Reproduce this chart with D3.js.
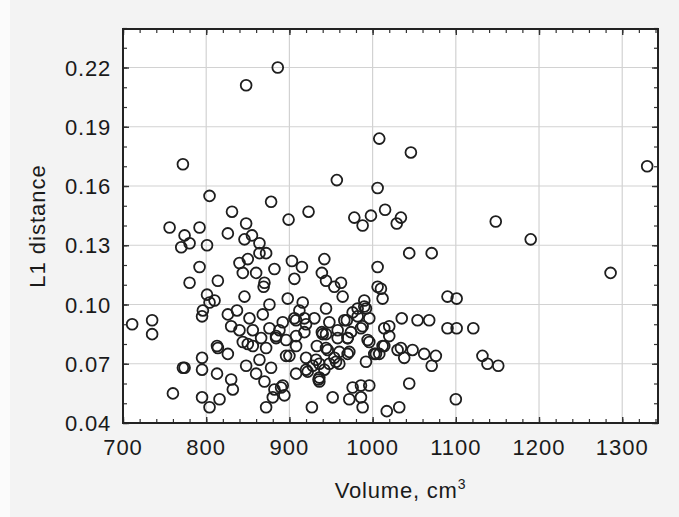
<!DOCTYPE html>
<html>
<head>
<meta charset="utf-8">
<script src="https://cdn.jsdelivr.net/npm/d3@7"></script>
<style>
  body{margin:0;background:#f3f3f3;}
  svg{display:block;font-family:"Liberation Sans",Arial,sans-serif;}
</style>
</head>
<body>
<script>
const w=679;
const h=517;
const margin={top:29,right:21,bottom:94,left:123};

// volume (cm3) and L1 distance
const volume=[
  886,848,772,1008,1046,1330,957,1006,804,878,831,923,899,848,756,792,826,
  978,988,998,1015,1029,1034,1148,1190,1286,
  774,770,780,801,846,855,864,872,864,850,840,844,860,870,882,903,915,906,
  942,939,944,792,780,814,801,804,846,898,916,876,837,796,944,1044,1071,
  1006,962,964,1006,1012,1090,1101,990,992,976,
  711,735,735,760,772,
  795,852,830,840,844,866,876,892,908,920,939,856,872,896,908,900,884,814,
  826,795,774,795,813,830,832,848,864,878,860,870,882,892,894,872,795,804,
  816,927,908,920,928,936,936,948,966,982,996,988,974,958,944,944,954,942,
  972,960,996,1004,992,1014,1020,1020,1035,1054,1068,1090,1101,1121,1034,
  1038,1048,1062,1076,1071,1132,1138,1151,936,952,972,976,986,996,986,988,
  1044,1032,1017,1100,1008,1030,880,890,922,935,960,970,1002,948,970,994,
  1012,1014,969,990,982,826,856,868,884,912,
  869,810,906,918,850,908,918,888,813,896,920,954,1010,930,986,940,958,970,
  946,933,956,932
];
const l1=[
  0.220,0.211,0.171,0.184,0.177,0.170,0.163,0.159,0.155,0.152,0.147,0.147,0.143,0.141,0.139,0.139,0.136,
  0.144,0.140,0.145,0.148,0.141,0.144,0.142,0.133,0.116,
  0.135,0.129,0.131,0.130,0.133,0.135,0.131,0.126,0.126,0.123,0.121,0.116,0.116,0.111,0.118,0.122,0.119,0.113,
  0.123,0.116,0.112,0.119,0.111,0.112,0.105,0.101,0.104,0.103,0.101,0.100,0.097,0.097,0.098,0.126,0.126,
  0.119,0.111,0.104,0.109,0.103,0.104,0.103,0.102,0.098,0.096,
  0.090,0.092,0.085,0.055,0.068,
  0.094,0.093,0.089,0.087,0.081,0.083,0.088,0.091,0.092,0.090,0.086,0.079,0.078,0.082,0.079,0.074,0.084,0.078,
  0.075,0.073,0.068,0.067,0.065,0.062,0.057,0.069,0.072,0.068,0.065,0.061,0.057,0.059,0.054,0.048,0.053,0.048,
  0.052,0.048,0.065,0.067,0.069,0.070,0.063,0.091,0.092,0.098,0.093,0.089,0.086,0.083,0.085,0.078,0.073,0.067,
  0.076,0.076,0.081,0.075,0.071,0.079,0.084,0.089,0.093,0.092,0.092,0.088,0.088,0.088,0.078,
  0.073,0.077,0.075,0.074,0.069,0.074,0.070,0.069,0.061,0.053,0.052,0.058,0.059,0.059,0.053,0.048,
  0.060,0.048,0.046,0.052,0.075,0.077,0.053,0.058,0.066,0.062,0.070,0.075,0.075,0.070,0.083,0.082,
  0.079,0.088,0.092,0.099,0.094,0.095,0.087,0.095,0.083,0.097,
  0.109,0.102,0.093,0.093,0.080,0.084,0.086,0.087,0.079,0.074,0.073,0.109,0.108,0.093,0.088,0.085,0.087,0.083,
  0.077,0.079,0.071,0.072
];
const points=volume.map((v,i)=>({v:v,d:l1[i]}));

const xTicks=[700,800,900,1000,1100,1200,1300];
const yTicks=[0.04,0.07,0.10,0.13,0.16,0.19,0.22];
const xMinor=d3.range(700,1351,20);
const yMinor=d3.range(4,25).map(d=>d/100);

const xScale=d3.scaleLinear().domain([700,1343]).range([margin.left,w-margin.right]);
const yScale=d3.scaleLinear().domain([0.04,0.2395]).range([h-margin.bottom,margin.top]);

const svg=d3.select("body").append("svg").attr("width",w).attr("height",h);

svg.append("rect").attr("width",w).attr("height",h).attr("fill","#f3f3f3");
svg.append("rect").attr("width",10).attr("height",h).attr("fill","#fbfbfb");

// plot area
svg.append("rect")
  .attr("x",margin.left).attr("y",margin.top)
  .attr("width",w-margin.left-margin.right)
  .attr("height",h-margin.top-margin.bottom)
  .attr("fill","#fff");

// grid
svg.append("g").selectAll("line").data(xTicks.slice(1)).enter().append("line")
  .attr("x1",d=>xScale(d)).attr("x2",d=>xScale(d))
  .attr("y1",margin.top).attr("y2",h-margin.bottom)
  .attr("stroke","#d2d2d2").attr("stroke-width",1.2);
svg.append("g").selectAll("line").data(yTicks.slice(1)).enter().append("line")
  .attr("y1",d=>yScale(d)).attr("y2",d=>yScale(d))
  .attr("x1",margin.left).attr("x2",w-margin.right)
  .attr("stroke","#d2d2d2").attr("stroke-width",1.2);

// inward ticks on all four sides
const tickStroke="#333";
const axes=[
  {ax:d3.axisBottom(xScale),t:`translate(0,${margin.top})`},
  {ax:d3.axisTop(xScale),t:`translate(0,${h-margin.bottom})`},
  {ax:d3.axisRight(yScale),t:`translate(${margin.left},0)`},
  {ax:d3.axisLeft(yScale),t:`translate(${w-margin.right},0)`}
];
axes.forEach((a,i)=>{
  const minor=i<2?xMinor:yMinor;
  const major=i<2?xTicks:yTicks;
  const g1=svg.append("g").attr("transform",a.t)
    .call(a.ax.tickValues(minor).tickSize(4).tickFormat(""));
  g1.select(".domain").remove();
  g1.selectAll("line").attr("stroke",tickStroke).attr("stroke-width",1.2);
  const g2=svg.append("g").attr("transform",a.t)
    .call(a.ax.tickValues(major).tickSize(6).tickFormat(""));
  g2.select(".domain").remove();
  g2.selectAll("line").attr("stroke",tickStroke).attr("stroke-width",1.4);
});

// frame
svg.append("rect")
  .attr("x",margin.left).attr("y",margin.top)
  .attr("width",w-margin.left-margin.right)
  .attr("height",h-margin.top-margin.bottom)
  .attr("fill","none").attr("stroke","#222").attr("stroke-width",2);

// tick labels
svg.append("g").selectAll("text").data(xTicks).enter().append("text")
  .attr("x",d=>xScale(d)).attr("y",h-margin.bottom+32)
  .attr("text-anchor","middle")
  .style("font-size","22px").style("letter-spacing","1px").attr("fill","#1a1a1a")
  .text(d=>d);
svg.append("g").selectAll("text").data(yTicks).enter().append("text")
  .attr("x",margin.left-12).attr("y",d=>yScale(d)).attr("dy","0.37em")
  .attr("text-anchor","end")
  .style("font-size","22px").style("letter-spacing","0.8px").attr("fill","#1a1a1a")
  .text(d=>d.toFixed(2));

// axis titles
const xt=svg.append("text")
  .attr("x",(margin.left+w-margin.right)/2+10).attr("y",h-19)
  .attr("text-anchor","middle")
  .style("font-size","22px").style("letter-spacing","0.8px").attr("fill","#1a1a1a");
xt.append("tspan").text("Volume, cm");
xt.append("tspan").attr("dy",-9).style("font-size","14px").text("3");

svg.append("text")
  .attr("transform",`translate(45,${(margin.top+h-margin.bottom)/2}) rotate(-90)`)
  .attr("text-anchor","middle")
  .style("font-size","22px").style("letter-spacing","1px").attr("fill","#1a1a1a")
  .text("L1 distance");

// markers
svg.append("g").selectAll("circle").data(points).enter().append("circle")
  .attr("cx",d=>xScale(d.v)).attr("cy",d=>yScale(d.d))
  .attr("r",5.4)
  .attr("fill","none").attr("stroke","#1e1e1e").attr("stroke-width",1.8);
</script>
</body>
</html>
